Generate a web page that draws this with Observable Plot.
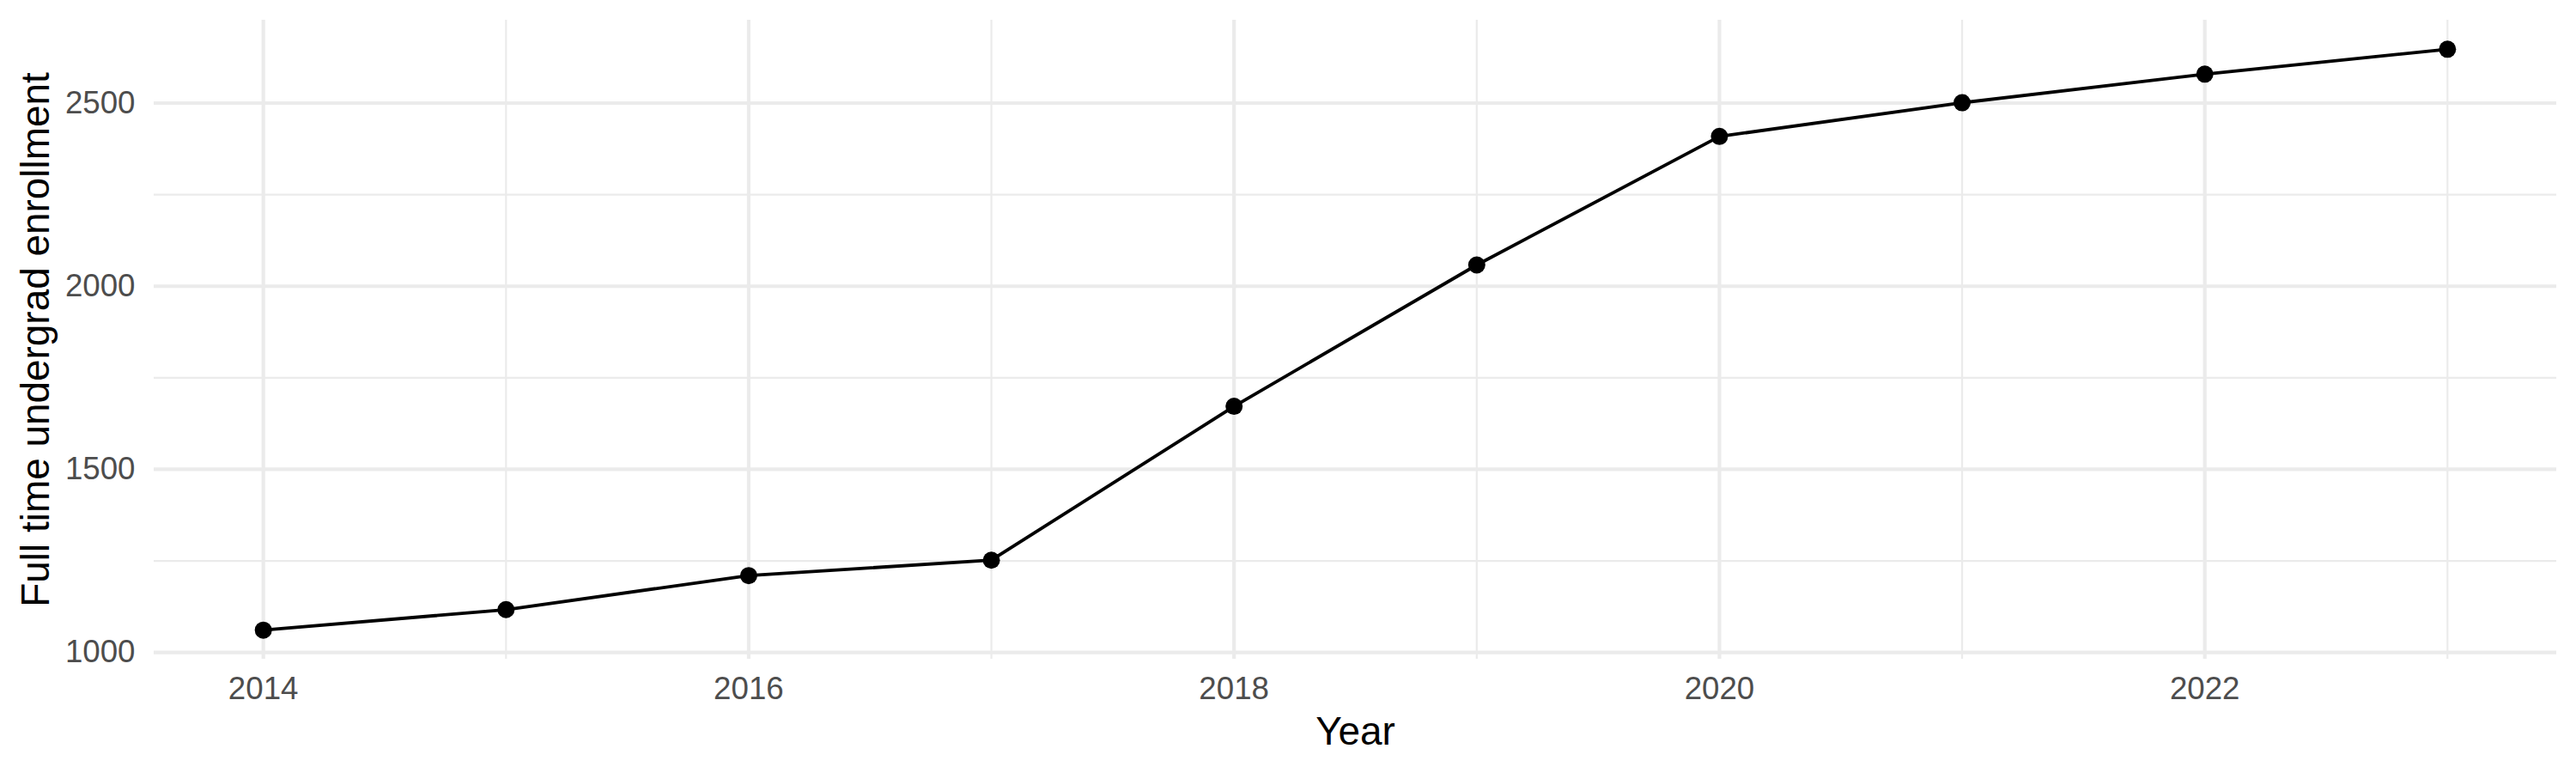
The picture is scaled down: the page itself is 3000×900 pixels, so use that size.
<!DOCTYPE html>
<html>
<head>
<meta charset="utf-8">
<script src="https://cdn.jsdelivr.net/npm/d3@7"></script>
<script src="https://cdn.jsdelivr.net/npm/@observablehq/plot@0.6"></script>
<style>
  html, body { margin: 0; padding: 0; background: #fff; }
  #chart { width: 3000px; height: 900px; }
</style>
</head>
<body>
<div id="chart"></div>
<script>
// Data
const years = [2014, 2015, 2016, 2017, 2018, 2019, 2020, 2021, 2022, 2023];
const enrollment = [1061, 1117, 1210, 1252, 1672, 2058, 2409, 2501, 2579, 2647];

// Ticks / grid breaks
const xMajor = [2014, 2016, 2018, 2020, 2022];
const xMinor = [2015, 2017, 2019, 2021, 2023];
const yMajor = [1000, 1500, 2000, 2500];
const yMinor = [1250, 1750, 2250];

const xTitle = "Year";
const yTitle = "Full time undergrad enrollment";

const data = years.map((y, i) => ({year: y, value: enrollment[i]}));

const font = "'Liberation Sans', Arial, Helvetica, sans-serif";
const pad = (a, b, f) => [a - (b - a) * f, b + (b - a) * f];
const xDom = pad(d3.min(years), d3.max(years), 0.05);
const yDom = pad(d3.min(enrollment), d3.max(enrollment), 0.05);

const chart = Plot.plot({
  width: 3000,
  height: 900,
  marginLeft: 179,
  marginRight: 23,
  marginTop: 23,
  marginBottom: 133,
  style: {fontFamily: font, background: "#ffffff"},
  x: {domain: xDom},
  y: {domain: yDom},
  marks: [
    Plot.ruleY(yMinor, {stroke: "#EBEBEB", strokeWidth: 2.2}),
    Plot.ruleX(xMinor, {stroke: "#EBEBEB", strokeWidth: 2.2}),
    Plot.ruleY(yMajor, {stroke: "#EBEBEB", strokeWidth: 4.2}),
    Plot.ruleX(xMajor, {stroke: "#EBEBEB", strokeWidth: 4.2}),
    Plot.axisX({ticks: xMajor, tickSize: 0, tickPadding: 0, tickFormat: d => String(d),
      fontSize: 36.7, color: "#4D4D4D", label: null, dy: 35, lineAnchor: "middle"}),
    Plot.axisY({ticks: yMajor, tickSize: 0, tickPadding: 22, tickFormat: d => String(d),
      fontSize: 36.7, color: "#4D4D4D", label: null}),
    Plot.text([xTitle], {frameAnchor: "bottom", dy: 85, lineAnchor: "middle", textAnchor: "middle",
      fontSize: 45.9, fill: "#000000", text: d => d}),
    Plot.text([yTitle], {frameAnchor: "left", dx: -137, rotate: -90, lineAnchor: "middle", textAnchor: "middle",
      fontSize: 45.9, fill: "#000000", text: d => d}),
    Plot.line(data, {x: "year", y: "value", stroke: "#000000", strokeWidth: 3.8}),
    Plot.dot(data, {x: "year", y: "value", r: 10, fill: "#000000", stroke: "none"})
  ]
});
document.getElementById("chart").appendChild(chart);
</script>
</body>
</html>
